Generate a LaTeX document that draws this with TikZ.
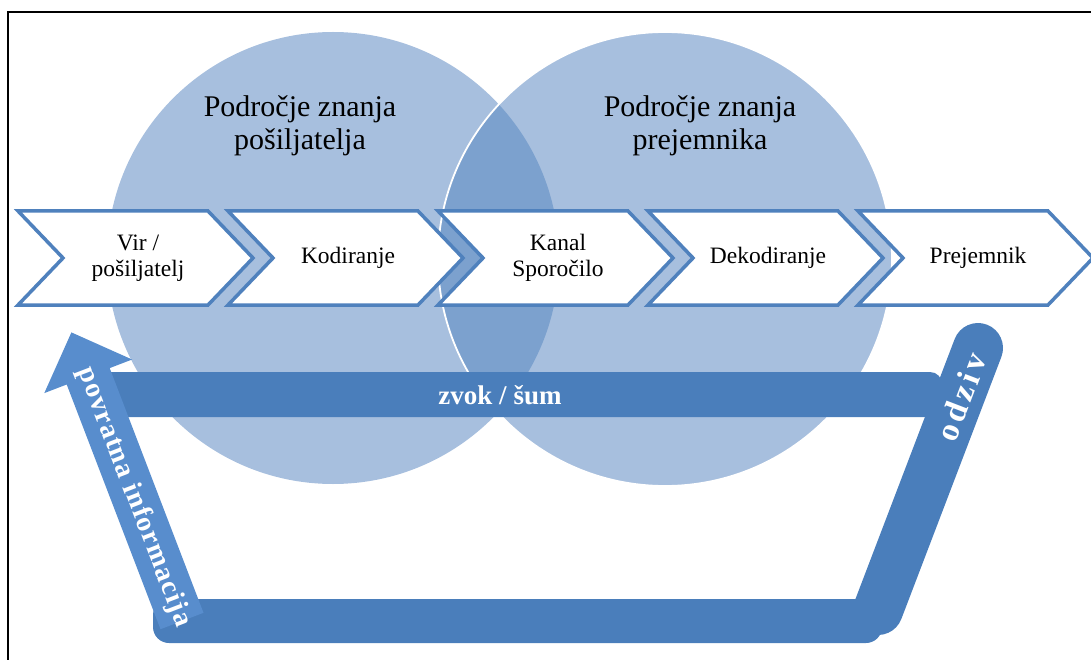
\documentclass[tikz,border=0pt]{standalone}
\usepackage{fontspec}
\setmainfont{Liberation Serif}
\definecolor{circlefill}{RGB}{167,191,222}
\definecolor{lensfill}{RGB}{124,161,206}
\definecolor{barblue}{RGB}{74,126,187}
\definecolor{arrowblue}{RGB}{88,141,205}
\definecolor{chevblue}{RGB}{79,129,189}

\begin{document}
\begin{tikzpicture}[x=1pt,y=-1pt,
  chevshape/.style={draw=chevblue, line width=3.5pt, fill=white, line join=miter},
  steplabel/.style={font=\fontsize{23.5}{26}\selectfont, align=center, text=black, inner sep=0pt},
  fieldlabel/.style={font=\fontsize{30}{33}\selectfont, align=center, text=black, inner sep=0pt},
  barlabel/.style={font=\bfseries\fontsize{27}{30}\selectfont, text=white, inner sep=0pt},
  barfill/.style={fill=barblue},
  feedbackfill/.style={fill=arrowblue}]
\useasboundingbox (0,0) rectangle (1091,660);

% frame
\draw[line width=2.4pt] (8,660) -- (8,12) -- (1091,12);

% knowledge fields of sender and receiver
\fill[circlefill] (333,258) circle (226pt);
\fill[circlefill] (665,259) circle (227pt);
\begin{scope}
  \clip (333,258) circle (226pt);
  \fill[lensfill] (665,259) circle (227pt);
\end{scope}
\draw[white, line width=1.8pt] (665,259) circle (227pt);

\node[fieldlabel] (senderfield) at (300,126) {Področje znanja\\pošiljatelja};
\node[fieldlabel] (receiverfield) at (700,126) {Področje znanja\\prejemnika};

% noise bar, bottom return bar and response bar
\fill[barfill, rounded corners=12pt] (100,372) rectangle (942,417);
\fill[barfill, rounded corners=16pt] (153,599) rectangle (882,643);
\draw[barblue, line width=50pt, line cap=round] (978,348) -- (878,610);

% feedback arrow
\fill[feedbackfill] (160.5,629.2) -- (203.5,612.8) -- (109.7,368.1) -- (132.1,359.5)
  -- (71.4,332.4) -- (44.3,393.1) -- (66.7,384.5) -- cycle;

% process chevrons
\foreach \i/\name/\txt in {0/source/{Vir /\\pošiljatelj}, 1/encoding/{Kodiranje},
    2/channel/{Kanal\\Sporočilo}, 3/decoding/{Dekodiranje}, 4/receiver/{Prejemnik}}{
  \pgfmathsetmacro\lx{18+210*\i}
  \draw[chevshape] (\lx,211) -- ++(190,0) -- ++(45,47) -- ++(-45,47) -- ++(-190,0)
    -- ++(45,-47) -- cycle;
  \node[steplabel] (\name) at (\lx+120,258) {\txt};
}

% bar labels
\node[barlabel] (noise) at (500,395) {zvok / šum};
\node[barlabel, font=\bfseries\fontsize{33}{36}\selectfont\addfontfeatures{LetterSpace=12}, rotate=69] (response) at (961,397) {odziv};
\node[barlabel, font=\bfseries\fontsize{28}{30}\selectfont\addfontfeatures{LetterSpace=4}, rotate=-69] (feedback) at (134,497) {povratna informacija};
\end{tikzpicture}
\end{document}
